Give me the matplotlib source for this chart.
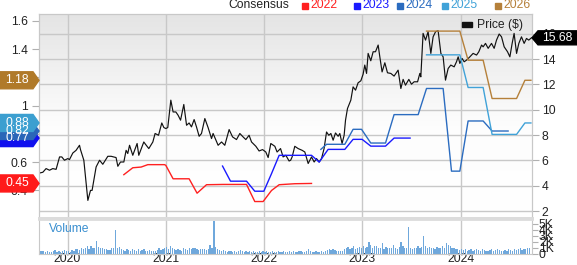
import numpy as np
import matplotlib.pyplot as plt
from matplotlib.patches import Polygon, Rectangle
from matplotlib.colors import LinearSegmentedColormap

plt.rcParams['font.family'] = ['Liberation Sans', 'DejaVu Sans']

# price ($), decimal years
price_t = [2019.715, 2019.749, 2019.782, 2019.817, 2019.850, 2019.884, 2019.919, 2019.942, 2019.969,
           2020.003, 2020.020, 2020.054, 2020.087, 2020.122, 2020.132, 2020.166, 2020.207, 2020.234,
           2020.250, 2020.291, 2020.326, 2020.359, 2020.410, 2020.444, 2020.494, 2020.512, 2020.539,
           2020.573, 2020.596, 2020.613, 2020.631, 2020.664, 2020.708, 2020.725, 2020.776, 2020.793,
           2020.827, 2020.868, 2020.891, 2020.926, 2020.959, 2020.980, 2021.000, 2021.020, 2021.051,
           2021.074, 2021.102, 2021.125, 2021.150, 2021.183, 2021.211, 2021.237, 2021.261, 2021.288,
           2021.312, 2021.339, 2021.363, 2021.397, 2021.430, 2021.465, 2021.481, 2021.532, 2021.567,
           2021.600, 2021.644, 2021.679, 2021.719, 2021.753, 2021.786, 2021.814, 2021.847, 2021.872,
           2021.916, 2021.949, 2021.984, 2022.017, 2022.041, 2022.068, 2022.109, 2022.132, 2022.167,
           2022.193, 2022.221, 2022.254, 2022.270, 2022.285, 2022.312, 2022.346, 2022.387, 2022.414,
           2022.448, 2022.482, 2022.509, 2022.533, 2022.560, 2022.584, 2022.610, 2022.635, 2022.658,
           2022.679, 2022.702, 2022.726, 2022.753, 2022.770, 2022.793, 2022.814, 2022.828, 2022.848,
           2022.882, 2022.905, 2022.930, 2022.956, 2022.984, 2023.007, 2023.024, 2023.042, 2023.058,
           2023.085, 2023.109, 2023.133, 2023.160, 2023.177, 2023.200, 2023.228, 2023.255, 2023.289,
           2023.322, 2023.363, 2023.391, 2023.414, 2023.438, 2023.472, 2023.499, 2023.526, 2023.561,
           2023.584, 2023.594, 2023.617, 2023.642, 2023.668, 2023.696, 2023.719, 2023.744, 2023.770,
           2023.798, 2023.821, 2023.845, 2023.872, 2023.899, 2023.933, 2023.957, 2023.974, 2023.991,
           2024.014, 2024.035, 2024.059, 2024.093, 2024.126, 2024.161, 2024.184, 2024.212, 2024.228,
           2024.252, 2024.279, 2024.313, 2024.340, 2024.364, 2024.391, 2024.415, 2024.442, 2024.476,
           2024.500, 2024.523, 2024.543, 2024.568, 2024.591, 2024.618, 2024.645, 2024.669, 2024.692,
           2024.719]
price_v = [5.01, 5.07, 5.36, 5.23, 5.36, 5.30, 6.28, 6.28, 6.02,
           6.15, 6.07, 6.59, 6.80, 7.20, 6.86, 6.02, 2.85, 3.64,
           3.64, 5.49, 6.02, 5.70, 6.33, 6.33, 6.23, 5.54, 5.88,
           5.88, 6.80, 6.55, 7.20, 6.41, 7.34, 6.41, 7.46, 7.28,
           6.94, 7.46, 8.13, 7.99, 8.96, 8.60, 8.52, 8.60, 10.76,
           9.83, 9.83, 9.57, 9.18, 10.42, 8.78, 8.96, 8.65, 9.23,
           8.65, 7.91, 8.13, 9.31, 8.60, 7.73, 8.13, 7.20, 7.46,
           7.20, 8.44, 7.86, 7.65, 8.13, 7.86, 7.65, 7.99, 7.46,
           7.12, 6.75, 6.86, 6.67, 6.23, 7.34, 7.12, 6.67, 6.94,
           6.28, 6.41, 5.96, 6.02, 6.28, 7.12, 6.94, 6.80, 6.67,
           5.76, 6.28, 5.88, 6.15, 5.88, 6.15, 6.94, 8.25, 7.99,
           8.13, 7.60, 8.17, 7.91, 8.13, 7.34, 7.99, 9.18, 10.10,
           10.76, 11.81, 11.55, 12.13, 12.29, 12.81, 13.53, 12.87, 14.45,
           13.87, 14.58, 14.58, 15.11, 14.18, 12.99, 13.71, 12.92, 12.87,
           12.66, 13.13, 11.68, 12.40, 11.94, 12.40, 12.02, 12.21, 12.21,
           12.87, 12.60, 16.03, 15.50, 16.16, 14.45, 15.76, 16.16, 16.24,
           14.45, 14.18, 12.34, 13.26, 13.53, 13.39, 13.79, 14.18, 13.66,
           14.05, 13.79, 13.92, 14.18, 14.45, 14.32, 14.58, 15.11, 14.97,
           15.24, 14.85, 15.24, 14.85, 15.50, 15.98, 15.76, 14.97, 14.58,
           14.18, 15.24, 16.03, 14.45, 15.24, 15.76, 15.24, 15.63, 15.50,
           15.68]

# consensus EPS estimates
eps22_t = [2020.573, 2020.664, 2020.749, 2020.817, 2020.987, 2021.000, 2021.074, 2021.237, 2021.318,
           2021.414, 2021.583, 2021.821, 2021.905, 2021.990, 2022.075, 2022.153, 2022.312, 2022.482]
eps22_v = [0.511, 0.560, 0.565, 0.582, 0.582, 0.577, 0.482, 0.482, 0.380,
           0.440, 0.442, 0.442, 0.321, 0.321, 0.399, 0.440, 0.447, 0.449]
eps23_t = [2021.577, 2021.658, 2021.821, 2021.905, 2021.997, 2022.075, 2022.153, 2022.482, 2022.560,
           2022.651, 2022.821, 2022.905, 2022.997, 2023.085, 2023.235, 2023.322, 2023.485]
eps23_v = [0.572, 0.465, 0.465, 0.394, 0.394, 0.518, 0.648, 0.648, 0.600,
           0.690, 0.690, 0.761, 0.761, 0.713, 0.713, 0.770, 0.770]
eps24_t = [2022.577, 2022.635, 2022.821, 2022.905, 2022.991, 2023.085, 2023.235, 2023.322, 2023.567,
           2023.652, 2023.821, 2023.906, 2023.991, 2024.075, 2024.228, 2024.319, 2024.482]
eps24_v = [0.690, 0.726, 0.726, 0.832, 0.832, 0.735, 0.735, 0.936, 0.936,
           1.121, 1.121, 0.536, 0.536, 0.891, 0.891, 0.820, 0.820]
eps25_t = [2023.652, 2023.991, 2024.075, 2024.228, 2024.319, 2024.568, 2024.653, 2024.714]
eps25_v = [1.359, 1.359, 1.128, 1.128, 0.796, 0.796, 0.877, 0.877]
eps26_t = [2023.652, 2023.991, 2024.075, 2024.228, 2024.319, 2024.568, 2024.653, 2024.714]
eps26_v = [1.527, 1.527, 1.321, 1.321, 1.050, 1.050, 1.179, 1.179]

# weekly volume (K), starting 2019.72
volume = [0.5, 0.4, 0.4, 0.3, 0.5, 0.3, 0.3, 0.4, 0.6, 0.3, 0.4, 0.3, 0.5, 0.6, 0.4,
          0.4, 0.3, 0.6, 0.5, 0.7, 0.8, 0.6, 1.0, 0.7, 0.9, 1.3, 0.8, 1.2, 0.9, 1.0, 2.1, 1.1, 1.0, 0.9, 0.8, 0.7, 0.6, 0.6, 1.0, 0.9, 4.0,
          1.0, 1.1, 0.8, 0.6, 0.5, 0.7, 0.6, 0.5, 0.8, 0.6, 0.5, 0.7, 0.5, 0.6, 0.8, 0.5, 0.4, 0.6, 0.5, 0.4, 0.5, 0.6, 1.0, 0.6, 0.8, 0.9,
          1.1, 0.8, 1.3, 0.9, 0.7, 0.6, 0.8, 0.6, 0.5, 0.9, 0.7, 0.6, 0.9, 0.8, 1.0, 0.9, 0.8, 0.6, 0.7, 0.8, 0.7, 0.6, 0.8, 1.4, 0.9, 5.4,
          1.1, 0.7, 0.6, 0.5, 0.6, 0.4, 0.3, 0.5, 0.4, 0.3, 0.4, 0.3, 0.5, 0.6, 0.4, 0.3, 0.4, 0.3, 0.5, 0.3, 0.4, 0.3, 0.3, 0.5, 0.3, 0.4,
          0.3, 0.4, 0.3, 0.3, 0.5, 0.3, 0.3, 0.4, 0.3, 0.3, 0.4, 0.3, 0.3, 0.4, 0.3, 0.4, 0.3, 0.3, 0.5, 0.4, 0.3, 0.3, 0.4, 0.7, 0.4, 0.3,
          0.3, 0.4, 0.3, 0.3, 0.4, 0.3, 0.4, 0.6, 0.7, 0.6, 0.8, 0.6, 0.5, 0.4, 0.5, 0.4, 0.7, 0.9, 1.1, 0.8, 0.9, 1.2, 0.8, 1.0, 1.1, 0.9,
          1.3, 0.9, 1.1, 2.0, 1.4, 1.0, 1.2, 1.3, 0.9, 1.0, 1.7, 0.8, 1.1, 0.9, 1.0, 0.9, 1.5, 0.9, 0.8, 1.1, 1.9, 1.2, 0.9, 1.0, 4.5, 0.9,
          0.8, 1.0, 0.9, 1.2, 1.0, 1.1, 3.0, 1.3, 1.0, 1.1, 0.9, 1.0, 0.8, 1.1, 0.9, 1.0, 1.2, 0.9, 1.8, 1.4, 1.2, 1.0, 0.9, 0.7, 0.8, 0.6,
          0.8, 0.6, 0.7, 0.5, 0.6, 0.7, 0.5, 0.6, 0.8, 0.6, 0.5, 0.7, 0.6, 0.5, 0.4, 0.6, 0.7, 0.5, 0.6, 0.8, 0.6, 0.5, 0.4, 0.6, 0.5, 0.7,
          0.6, 0.5, 0.8, 0.6, 0.7, 0.9, 0.6, 0.8, 0.7, 1.0, 0.9]
vol_t = 2019.72 + np.arange(len(volume)) / 52.0

years = [2020, 2021, 2022, 2023, 2024]
series = [(eps22_t, eps22_v, '#ff2020', '2022'),
          (eps23_t, eps23_v, '#1a1aff', '2023'),
          (eps24_t, eps24_v, '#2b6cc0', '2024'),
          (eps25_t, eps25_v, '#40a2d8', '2025'),
          (eps26_t, eps26_v, '#b5803a', '2026')]

W, H = 577, 265
fig = plt.figure(figsize=(W / 100, H / 100), dpi=100)
gc = '#c8c8c8'

ax = fig.add_axes([39 / W, 47.5 / H, 493 / W, 203.5 / H])
axv = fig.add_axes([39 / W, 11.5 / H, 493 / W, 34.5 / H])
ax2 = ax.twinx()

# gradient background
cmap = LinearSegmentedColormap.from_list('bg', [(0, '#ffffff'), (0.45, '#fdfdfd'), (1, '#e4e4e4')])
ax.imshow(np.linspace(0, 1, 256).reshape(-1, 1), cmap=cmap, origin='lower', aspect='auto',
          extent=[0, 1, 0, 1], transform=ax.transAxes, zorder=0)

xlim = (2019.71, 2024.725)
ax.set_xlim(*xlim)
ax.set_ylim(1.5, 17.56)
ax.yaxis.tick_right()
ax.set_yticks(range(2, 17, 2))
ax.set_xticks(years)
ax.tick_params(axis='x', length=0, labelbottom=False)
ax.tick_params(axis='y', left=False, labelleft=False, right=True, labelright=True,
               length=5, color='#b0b0b0', labelsize=8.7, labelcolor='#222222', pad=2)
ax.grid(color=gc, lw=1, zorder=1)
ax.set_axisbelow(True)
ax.plot(price_t, price_v, color='#111111', lw=0.85, zorder=3)

ax2.set_ylim(0.208, 1.648)
ax2.yaxis.tick_left()
ax2.set_yticks([0.4, 0.6, 0.8, 1.0, 1.2, 1.4, 1.6])
ax2.set_yticklabels(['0.4', '0.6', '0.8', '1', '1.2', '1.4', '1.6'])
ax2.tick_params(axis='y', right=False, labelright=False, left=True, labelleft=True,
                length=5, color='#b0b0b0', labelsize=8.7, labelcolor='#222222', pad=3)
for t, v, c, lab in series:
    ax2.plot(t, v, color=c, lw=1.0, zorder=4)

for a in (ax, ax2, axv):
    for s in a.spines.values():
        s.set_color(gc)
for a in (ax, ax2):
    a.spines['bottom'].set_linewidth(2)
    a.spines['bottom'].set_color('#dcdcdc')
axv.spines['top'].set_linewidth(2)
axv.spines['top'].set_color('#dcdcdc')

# volume panel
axv.bar(vol_t, volume, width=0.013, color='#6fa8dc', zorder=2)
axv.set_xlim(*xlim)
axv.set_ylim(0, 5.75)
axv.set_xticks(years)
axv.set_xticklabels([str(y) for y in years])
axv.tick_params(axis='x', length=0, labelsize=8.7, labelcolor='#222222', pad=0)
axv.yaxis.tick_right()
axv.set_yticks([0, 1, 2, 3, 4, 5])
axv.set_yticklabels(['0', '1K', '2K', '3K', '4K', '5K'])
axv.tick_params(axis='y', length=4, color='#b0b0b0', labelsize=8.7, labelcolor='#222222', pad=1)
axv.grid(axis='x', color=gc, lw=1, zorder=1)
axv.set_axisbelow(True)
axv.text(10 / 493, 0.72, 'Volume', transform=axv.transAxes, color='#3a8fd0', fontsize=8.7,
         va='center', ha='left')


def fig_y(px_top):
    return 1 - px_top / H


# top legend
fig.text(228 / W, fig_y(5.5), 'Consensus', fontsize=8.7, color='#222222', va='center', ha='left')
leg_x = [302, 354, 397, 442, 495]
for (t, v, c, lab), lx in zip(series, leg_x):
    fig.patches.append(Rectangle((lx / W, fig_y(8.5)), 6 / W, 6 / H, transform=fig.transFigure,
                                 color=c, zorder=5))
    fig.text((lx + 8) / W, fig_y(5.5), lab, fontsize=8.7, color=c, va='center', ha='left')

# price legend
fig.patches.append(Rectangle((462 / W, fig_y(27)), 10 / W, 5 / H, transform=fig.transFigure,
                             color='#111111', zorder=5))
fig.text(477 / W, fig_y(25), 'Price ($)', fontsize=8.7, color='#222222', va='center', ha='left')

# left value badges
badges = [(eps22_v[-1], '0.45', '#ff1a1a'), (eps23_v[-1], '0.77', '#1010ee'),
          (eps24_v[-1], '0.82', '#2a66b8'), (eps25_v[-1], '0.88', '#3c9fd0'),
          (eps26_v[-1], '1.18', '#b07a2a')]
for val, lab, c in badges:
    yc = ax2.transData.transform((xlim[0], val))[1]
    pts = [(0, yc - 8.5), (33, yc - 8.5), (39, yc), (33, yc + 8.5), (0, yc + 8.5)]
    fig.patches.append(Polygon(pts, closed=True, transform=None, color=c, zorder=6))
    fig.text(17 / W, yc / H, lab, fontsize=8.7, color='white', va='center', ha='center', zorder=7)

# right price badge
yc = ax.transData.transform((xlim[1], price_v[-1]))[1]
pts = [(532, yc), (538, yc - 7), (577, yc - 7), (577, yc + 7), (538, yc + 7)]
fig.patches.append(Polygon(pts, closed=True, transform=None, color='#000000', zorder=6))
fig.text(557 / W, yc / H, '15.68', fontsize=8.7, color='white', va='center', ha='center', zorder=7)

fig.savefig('out.png', dpi=100)
